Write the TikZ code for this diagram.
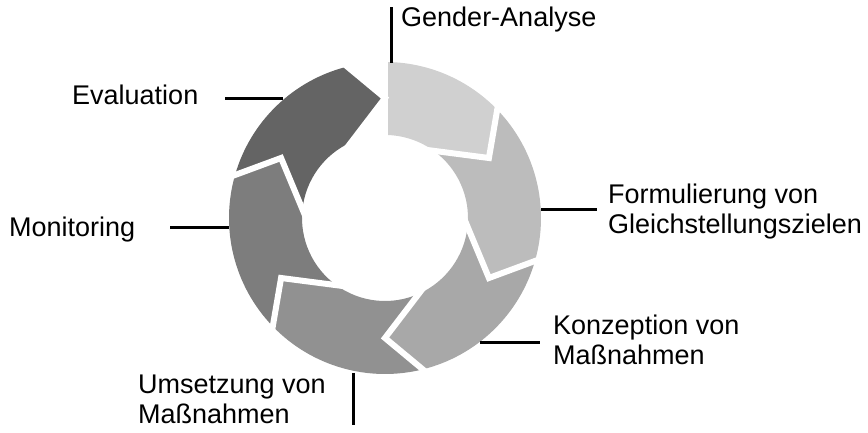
\documentclass[tikz,border=0pt]{standalone}
\usepackage{fontspec}
\setmainfont{Liberation Sans}
\usetikzlibrary{calc}
\definecolor{cA}{HTML}{D0D0D0}
\definecolor{cB}{HTML}{BCBCBC}
\definecolor{cC}{HTML}{A8A8A8}
\definecolor{cD}{HTML}{919191}
\definecolor{cE}{HTML}{7D7D7D}
\definecolor{cF}{HTML}{646464}
\begin{document}
\begin{tikzpicture}[x=1pt,y=1pt,
  lbl/.style={font=\fontsize{27}{30}\selectfont, inner sep=0pt, align=left, anchor=base west},
  leader/.style={line width=3pt},
  gapline/.style={white, line width=6pt, line join=miter}]
\useasboundingbox (0,0) rectangle (868,433);
\coordinate (C) at (385,215);
\def\Ro{156}\def\Ri{83}\def\Rm{120}\def\dO{14}\def\dI{24}
\begin{scope}[shift={(C)}]
  % first segment, flat tail
  \fill[cA] (90:\Ro) arc[start angle=90, end angle={30+\dO}, radius=\Ro]
     -- (30:\Rm) -- ({30+\dI}:\Ri) arc[start angle={30+\dI}, end angle=90, radius=\Ri] -- cycle;
  \foreach \k/\col in {1/cB,2/cC,3/cD,4/cE,5/cF}{
    \pgfmathsetmacro\t{30-60*\k}
    \pgfmathsetmacro\tt{\t+60}
    \fill[\col] ({\tt+\dO}:\Ro) arc[start angle={\tt+\dO}, end angle={\t+\dO}, radius=\Ro]
      -- (\t:\Rm) -- ({\t+\dI}:\Ri) arc[start angle={\t+\dI}, end angle={\tt+\dI}, radius=\Ri]
      -- (\tt:\Rm) -- cycle;
  }
  \foreach \t in {30,-30,-90,-150,-210,-270}{
    \draw[gapline] ($(\t:\Rm)!1.4!({\t+\dO}:\Ro)$) -- (\t:\Rm) -- ($(\t:\Rm)!1.4!({\t+\dI}:\Ri)$);
  }
  \draw[gapline] (90:75) -- (90:165);
\end{scope}
% labels (base anchor = baseline of the last line)
\node[lbl] (g) at (401,406) {Gender-Analyse};
\node[lbl] (ev) at (72,328) {Evaluation};
\node[lbl] (mo) at (9,196) {Monitoring};
\node[lbl] (fo) at (608,199) {Formulierung von\\Gleichstellungszielen};
\node[lbl] (ko) at (553,68) {Konzeption von\\Maßnahmen};
\node[lbl] (um) at (138,9) {Umsetzung von\\Maßnahmen};
% leader lines
\coordinate (g1) at (391,370); \coordinate (g2) at (391,426);
\coordinate (e1) at (283,334); \coordinate (e2) at (225,334);
\coordinate (m1) at (229,205); \coordinate (m2) at (170,205);
\coordinate (f1) at (541,223); \coordinate (f2) at (597,223);
\coordinate (k1) at (480,90);  \coordinate (k2) at (540,90);
\coordinate (u1) at (353,60);  \coordinate (u2) at (353,8);
\draw[leader] (g1) -- (g2);
\draw[leader] (e1) -- (e2);
\draw[leader] (m1) -- (m2);
\draw[leader] (f1) -- (f2);
\draw[leader] (k1) -- (k2);
\draw[leader] (u1) -- (u2);
\end{tikzpicture}
\end{document}
